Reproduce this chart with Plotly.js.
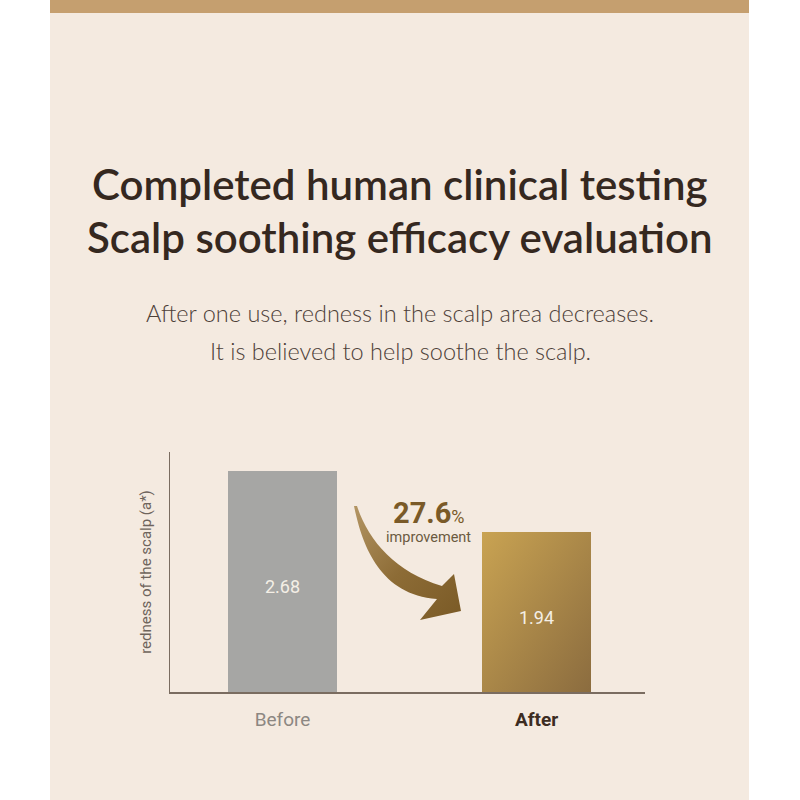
<!DOCTYPE html>
<html>
<head>
<meta charset="utf-8">
<script src="https://cdn.plot.ly/plotly-3.0.1.min.js"></script>
<style>html,body{margin:0;padding:0;background:#fff;}#chart{width:800px;height:800px;}</style>
</head>
<body>
<div id="chart"></div>
<script>
// ---- data ----
const categories = ['Before', 'After'];
const rednessValues = [2.68, 1.94];
const improvementPct = 27.6;
const titleLines = ['Completed human clinical testing', 'Scalp soothing efficacy evaluation'];
const subtitleLines = ['After one use, redness in the scalp area decreases.', 'It is believed to help soothe the scalp.'];
const yAxisTitle = 'redness of the scalp (a*)';

// ---- layout helpers (pixel -> paper), plot area 170..645 x 452..692 ----
const L = 170, R = 645, T = 452, B = 692;
const px = v => (v - L) / (R - L);
const py = v => (B - v) / (B - T);

const tickStyles = ['color:#8c8782', 'color:#3c2c22;font-weight:bold'];
const tickText = categories.map((c, i) => '<span style="' + tickStyles[i] + '">' + c + '</span>');

const data = [{
  type: 'bar',
  x: categories,
  y: rednessValues,
  width: 0.43,
  marker: {color: ['#a6a6a4', '#b08d4c'], line: {width: 0}},
  texttemplate: '%{y:.2f}',
  textposition: 'inside',
  insidetextanchor: 'middle',
  textfont: {family: 'Roboto, sans-serif', size: 18, color: '#f4efe6'},
  hoverinfo: 'skip'
}];

const arrowPts = [
  'M', px(354), py(506),
  'C', px(362), py(545), px(380), py(595), px(437), py(599),
  'L', px(420), py(620),
  'L', px(461), py(611),
  'L', px(454), py(574),
  'L', px(442), py(586),
  'C', px(395), py(572), px(368), py(540), px(357), py(506), 'Z'
];
let arrowPath = '';
for (let i = 0; i < arrowPts.length; i++) {
  const t = arrowPts[i];
  if (typeof t === 'string') arrowPath += t + ' ';
  else { arrowPath += t.toFixed(4) + (typeof arrowPts[i + 1] === 'number' ? ',' : ' '); }
}

const titleFont = {family: 'Lato, sans-serif', size: 42, color: '#35281f', weight: 600};
const subFont = {family: 'Lato, sans-serif', size: 23.5, color: '#4d4038', weight: 300};

const layout = {
  width: 800, height: 800,
  paper_bgcolor: '#ffffff',
  plot_bgcolor: 'rgba(0,0,0,0)',
  margin: {l: L, r: 800 - R, t: T, b: 800 - B, pad: 0},
  showlegend: false,
  bargap: 0,
  xaxis: {
    type: 'category',
    range: [-0.443, 1.427],
    showline: true, linecolor: '#7a6c60', linewidth: 1.5,
    showgrid: false, zeroline: false,
    ticks: 'outside', ticklen: 10, tickcolor: 'rgba(0,0,0,0)',
    tickvals: categories, ticktext: tickText,
    tickfont: {family: 'Roboto, sans-serif', size: 19, color: '#8c8782'},
    fixedrange: true
  },
  yaxis: {
    range: [0, 2.91],
    showline: true, linecolor: '#7a6c60', linewidth: 1.5,
    showgrid: false, zeroline: false,
    showticklabels: false, ticks: '',
    title: {text: yAxisTitle, font: {family: 'Roboto, sans-serif', size: 15, color: '#6e645c'}, standoff: 13},
    fixedrange: true
  },
  shapes: [
    {type: 'rect', xref: 'paper', yref: 'paper', x0: px(50), x1: px(749), y0: py(800), y1: py(13),
     fillcolor: '#f4eae0', line: {width: 0}, layer: 'below'},
    {type: 'rect', xref: 'paper', yref: 'paper', x0: px(50), x1: px(749), y0: py(13), y1: py(0),
     fillcolor: '#c59f6f', line: {width: 0}, layer: 'below'},
    {type: 'path', xref: 'paper', yref: 'paper', path: arrowPath,
     fillcolor: '#8a6a35', line: {width: 0}, layer: 'above'}
  ],
  annotations: [
    {text: titleLines[0], xref: 'paper', yref: 'paper', x: px(400), y: py(184), xanchor: 'center', yanchor: 'middle', showarrow: false, font: titleFont},
    {text: titleLines[1], xref: 'paper', yref: 'paper', x: px(400), y: py(237), xanchor: 'center', yanchor: 'middle', showarrow: false, font: titleFont},
    {text: subtitleLines[0], xref: 'paper', yref: 'paper', x: px(400), y: py(313), xanchor: 'center', yanchor: 'middle', showarrow: false, font: subFont},
    {text: subtitleLines[1], xref: 'paper', yref: 'paper', x: px(400), y: py(351), xanchor: 'center', yanchor: 'middle', showarrow: false, font: subFont},
    {text: '<b>' + improvementPct.toFixed(1) + '</b><span style="font-size:18px">%</span>', xref: 'paper', yref: 'paper',
     x: px(429), y: py(513), xanchor: 'center', yanchor: 'middle', showarrow: false,
     font: {family: 'Roboto, sans-serif', size: 29, color: '#7a5a28'}},
    {text: 'improvement', xref: 'paper', yref: 'paper', x: px(428), y: py(537), xanchor: 'center', yanchor: 'middle', showarrow: false,
     font: {family: 'Roboto, sans-serif', size: 14.5, color: '#6b5a40'}}
  ]
};

const gd = document.getElementById('chart');
Plotly.newPlot(gd, data, layout, {staticPlot: true, displayModeBar: false}).then(function () {
  const NS = 'http://www.w3.org/2000/svg';
  const svg = gd.querySelector('.main-svg');
  let defs = svg.querySelector('defs');
  if (!defs) { defs = document.createElementNS(NS, 'defs'); svg.insertBefore(defs, svg.firstChild); }
  function addGrad(id, x1, y1, x2, y2, stops) {
    const g = document.createElementNS(NS, 'linearGradient');
    g.setAttribute('id', id);
    g.setAttribute('x1', x1); g.setAttribute('y1', y1); g.setAttribute('x2', x2); g.setAttribute('y2', y2);
    stops.forEach(s => {
      const st = document.createElementNS(NS, 'stop');
      st.setAttribute('offset', s[0]); st.setAttribute('stop-color', s[1]);
      g.appendChild(st);
    });
    defs.appendChild(g);
  }
  addGrad('goldBar', '0', '0', '1', '1', [['0', '#c9a352'], ['1', '#8b6c3f']]);
  addGrad('goldArrow', '0', '0', '1', '1', [['0', '#b39563'], ['0.5', '#8d6c36'], ['1', '#7a5a26']]);
  const bars = gd.querySelectorAll('.bars .point path');
  if (bars[1]) bars[1].style.fill = 'url(#goldBar)';
  const arrow = gd.querySelector('.layer-above .shapelayer path');
  if (arrow) arrow.style.fill = 'url(#goldArrow)';
  // nudge the in-bar value labels slightly down, as in the reference
  gd.querySelectorAll('.bars .point text').forEach(t => {
    const g = document.createElementNS(NS, 'g');
    t.parentNode.insertBefore(g, t);
    g.appendChild(t);
    g.setAttribute('transform', 'translate(0,5)');
  });
});
</script>
</body>
</html>
